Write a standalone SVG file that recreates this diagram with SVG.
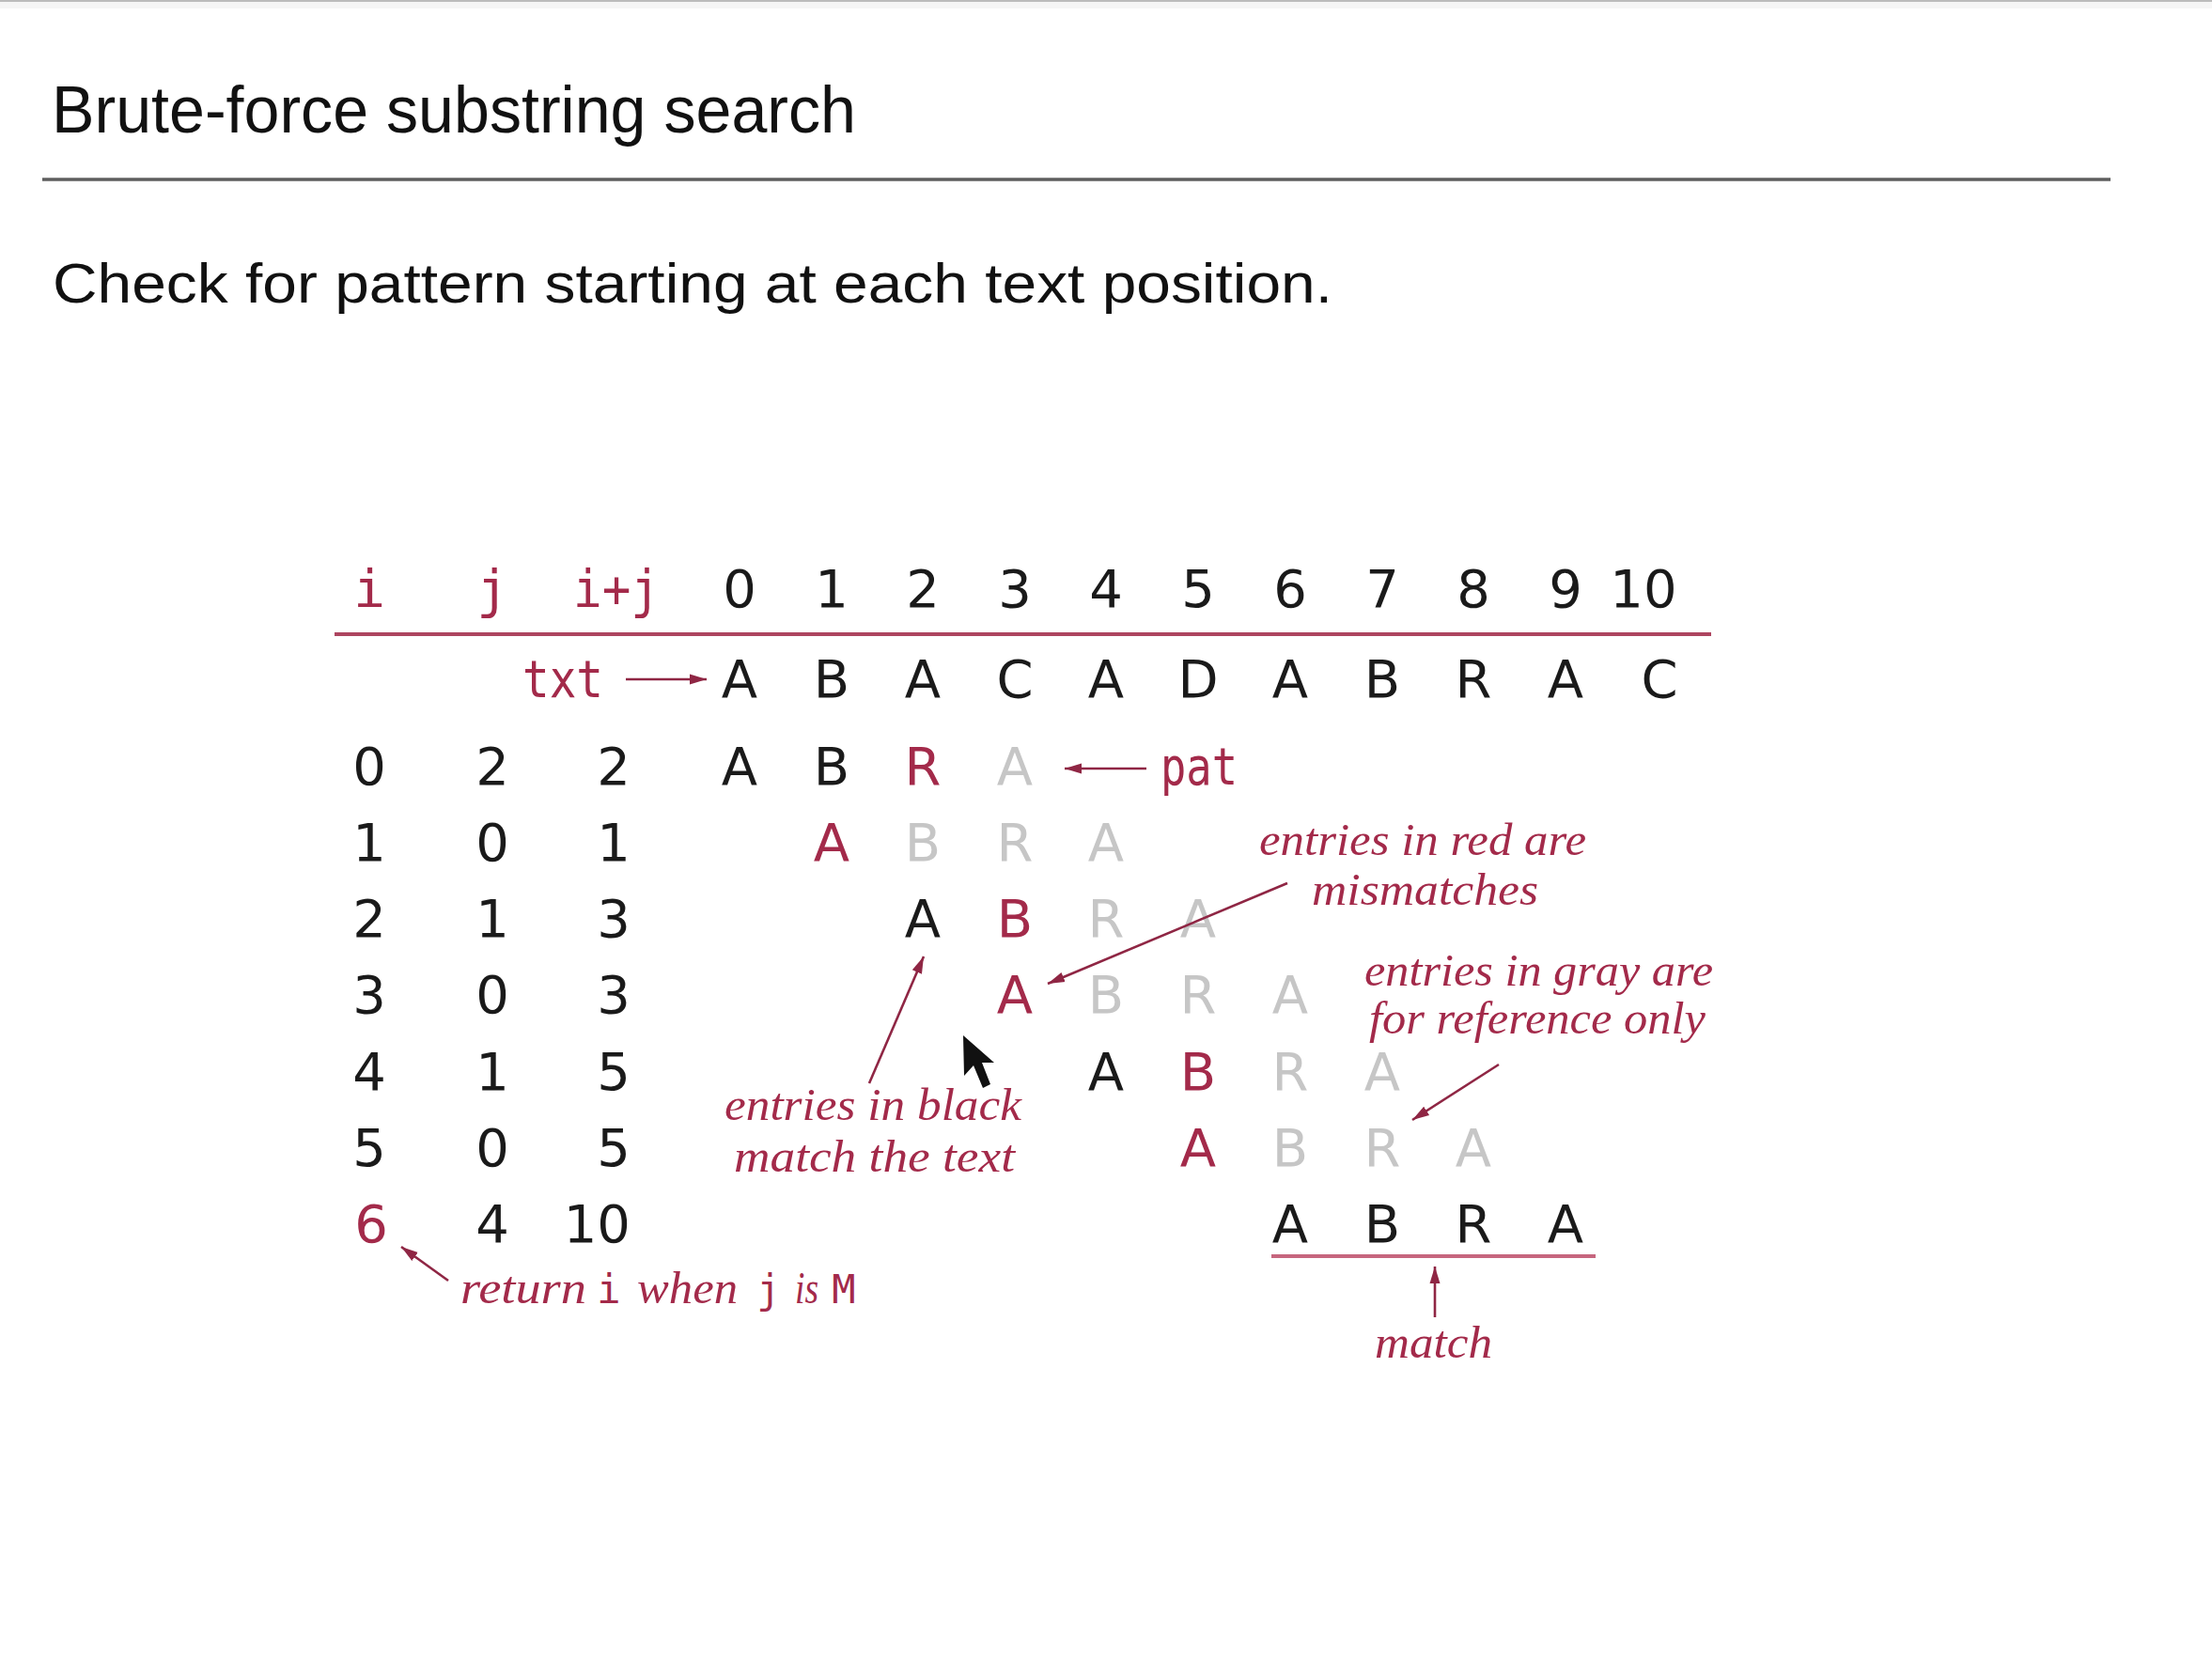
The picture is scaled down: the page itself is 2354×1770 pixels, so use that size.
<svg xmlns="http://www.w3.org/2000/svg" width="2354" height="1770" viewBox="0 0 2354 1770">
  <style>
    .title { font-family: "Liberation Sans", "DejaVu Sans", sans-serif; font-size: 70px; fill: #111; }
    .sub { font-family: "Liberation Sans", "DejaVu Sans", sans-serif; font-size: 60px; fill: #111; }
    .m { font-family: "DejaVu Sans", "Liberation Sans", sans-serif; font-size: 56px; text-anchor: middle; fill: #1a1a1a; }
    .tt { font-family: "DejaVu Sans Mono", "Liberation Mono", monospace; }
    .e { text-anchor: end; }
    .red { fill: #a32a4a; }
    .gray { fill: #c6c6c6; }
    .note { font-family: "Liberation Serif", "DejaVu Serif", serif; font-style: italic; font-size: 48px; fill: #a32a4a; }
    .mono-s { font-family: "DejaVu Sans Mono", "Liberation Mono", monospace; font-size: 42px; fill: #a32a4a; text-anchor: middle; }
    .arrow { stroke: #8f2644; stroke-width: 2.6; fill: none; marker-end: url(#head); }
  </style>
  <defs>
    <marker id="head" markerUnits="userSpaceOnUse" markerWidth="20" markerHeight="14" refX="18" refY="7" orient="auto">
      <path d="M0,1.5 L18,7 L0,12.5 Z" fill="#8f2644"/>
    </marker>
  </defs>

  <rect width="2354" height="1770" fill="#ffffff"/>
  <!-- window edge at the top -->
  <rect x="0" y="0" width="2354" height="2" fill="#bcbcbc"/>
  <rect x="0" y="2" width="2354" height="7" fill="#f6f6f6"/>

  <!-- heading -->
  <g id="heading">
    <text class="title" x="55" y="141" textLength="856" lengthAdjust="spacingAndGlyphs">Brute-force substring search</text>
    <line x1="45" y1="191" x2="2246" y2="191" stroke="#5e5e5e" stroke-width="3.5"/>
    <text class="sub" x="56" y="322" textLength="1362" lengthAdjust="spacingAndGlyphs">Check for pattern starting at each text position.</text>
  </g>

  <!-- table header -->
  <g id="header">
    <text class="m tt red" x="393" y="646">i</text>
    <text class="m tt red" x="524" y="646">j</text>
    <text class="m tt red" x="656" y="646" textLength="92" lengthAdjust="spacingAndGlyphs">i+j</text>
    <text class="m" x="787" y="646">0</text>
    <text class="m" x="885" y="646">1</text>
    <text class="m" x="982" y="646">2</text>
    <text class="m" x="1080" y="646">3</text>
    <text class="m" x="1177" y="646">4</text>
    <text class="m" x="1275" y="646">5</text>
    <text class="m" x="1373" y="646">6</text>
    <text class="m" x="1471" y="646">7</text>
    <text class="m" x="1568" y="646">8</text>
    <text class="m" x="1666" y="646">9</text>
    <text class="m" x="1749" y="646">10</text>
    <line x1="356" y1="675" x2="1821" y2="675" stroke="#ad4560" stroke-width="4"/>
  </g>

  <!-- text row -->
  <g id="txt">
    <text class="m tt red" x="599" y="742" textLength="86" lengthAdjust="spacingAndGlyphs">txt</text>
    <text class="m" x="787" y="742">A</text>
    <text class="m" x="885" y="742">B</text>
    <text class="m" x="982" y="742">A</text>
    <text class="m" x="1080" y="742">C</text>
    <text class="m" x="1177" y="742">A</text>
    <text class="m" x="1275" y="742">D</text>
    <text class="m" x="1373" y="742">A</text>
    <text class="m" x="1471" y="742">B</text>
    <text class="m" x="1568" y="742">R</text>
    <text class="m" x="1666" y="742">A</text>
    <text class="m" x="1766" y="742">C</text>
  </g>

  <!-- one row per alignment of the pattern -->
  <g id="row0">
    <text class="m" x="393" y="835">0</text>
    <text class="m" x="524" y="835">2</text>
    <text class="m e" x="671" y="835">2</text>
    <text class="m" x="787" y="835">A</text>
    <text class="m" x="885" y="835">B</text>
    <text class="m red" x="982" y="835">R</text>
    <text class="m gray" x="1080" y="835">A</text>
    <text class="m tt red" x="1276" y="835" textLength="82" lengthAdjust="spacingAndGlyphs">pat</text>
  </g>
  <g id="row1">
    <text class="m" x="393" y="916">1</text>
    <text class="m" x="524" y="916">0</text>
    <text class="m e" x="671" y="916">1</text>
    <text class="m red" x="885" y="916">A</text>
    <text class="m gray" x="982" y="916">B</text>
    <text class="m gray" x="1080" y="916">R</text>
    <text class="m gray" x="1177" y="916">A</text>
  </g>
  <g id="row2">
    <text class="m" x="393" y="997">2</text>
    <text class="m" x="524" y="997">1</text>
    <text class="m e" x="671" y="997">3</text>
    <text class="m" x="982" y="997">A</text>
    <text class="m red" x="1080" y="997">B</text>
    <text class="m gray" x="1177" y="997">R</text>
    <text class="m gray" x="1275" y="997">A</text>
  </g>
  <g id="row3">
    <text class="m" x="393" y="1078">3</text>
    <text class="m" x="524" y="1078">0</text>
    <text class="m e" x="671" y="1078">3</text>
    <text class="m red" x="1080" y="1078">A</text>
    <text class="m gray" x="1177" y="1078">B</text>
    <text class="m gray" x="1275" y="1078">R</text>
    <text class="m gray" x="1373" y="1078">A</text>
  </g>
  <g id="row4">
    <text class="m" x="393" y="1160">4</text>
    <text class="m" x="524" y="1160">1</text>
    <text class="m e" x="671" y="1160">5</text>
    <text class="m" x="1177" y="1160">A</text>
    <text class="m red" x="1275" y="1160">B</text>
    <text class="m gray" x="1373" y="1160">R</text>
    <text class="m gray" x="1471" y="1160">A</text>
  </g>
  <g id="row5">
    <text class="m" x="393" y="1241">5</text>
    <text class="m" x="524" y="1241">0</text>
    <text class="m e" x="671" y="1241">5</text>
    <text class="m red" x="1275" y="1241">A</text>
    <text class="m gray" x="1373" y="1241">B</text>
    <text class="m gray" x="1471" y="1241">R</text>
    <text class="m gray" x="1568" y="1241">A</text>
  </g>
  <g id="row6">
    <text class="m red" x="395" y="1322">6</text>
    <text class="m" x="524" y="1322">4</text>
    <text class="m e" x="671" y="1322">10</text>
    <text class="m" x="1373" y="1322">A</text>
    <text class="m" x="1471" y="1322">B</text>
    <text class="m" x="1568" y="1322">R</text>
    <text class="m" x="1666" y="1322">A</text>
    <line x1="1353" y1="1337" x2="1698" y2="1337" stroke="#c6667e" stroke-width="4"/>
  </g>

  <!-- notes -->
  <g id="note-red">
    <text class="note" x="1340" y="910" textLength="348" lengthAdjust="spacingAndGlyphs">entries in red are</text>
    <text class="note" x="1396" y="963" textLength="241" lengthAdjust="spacingAndGlyphs">mismatches</text>
  </g>
  <g id="note-gray">
    <text class="note" x="1452" y="1049" textLength="371" lengthAdjust="spacingAndGlyphs">entries in gray are</text>
    <text class="note" x="1457" y="1100" textLength="358" lengthAdjust="spacingAndGlyphs">for reference only</text>
  </g>
  <g id="note-black">
    <text class="note" x="771" y="1192" textLength="316" lengthAdjust="spacingAndGlyphs">entries in black</text>
    <text class="note" x="781" y="1247" textLength="299" lengthAdjust="spacingAndGlyphs">match the text</text>
  </g>
  <g id="note-match">
    <text class="note" x="1463" y="1445" textLength="125" lengthAdjust="spacingAndGlyphs">match</text>
  </g>
  <g id="note-return">
    <text class="note" x="490" y="1387" textLength="134" lengthAdjust="spacingAndGlyphs">return</text>
    <text class="mono-s" x="648" y="1387">i</text>
    <text class="note" x="678" y="1387" textLength="107" lengthAdjust="spacingAndGlyphs">when</text>
    <text class="mono-s" x="818" y="1387">j</text>
    <text class="note" x="846" y="1387" textLength="25" lengthAdjust="spacingAndGlyphs">is</text>
    <text class="mono-s" x="898" y="1387" font-size="38">M</text>
  </g>

  <!-- connectors -->
  <g id="connectors">
    <line class="arrow" x1="666" y1="723" x2="752" y2="723"/>
    <line class="arrow" x1="1220" y1="818" x2="1133" y2="818"/>
    <line class="arrow" x1="1370" y1="940" x2="1115" y2="1047"/>
    <line class="arrow" x1="925" y1="1153" x2="983" y2="1018"/>
    <line class="arrow" x1="1595" y1="1133" x2="1503" y2="1192"/>
    <line class="arrow" x1="477" y1="1363" x2="427" y2="1327"/>
    <line class="arrow" x1="1527" y1="1402" x2="1527" y2="1348"/>
  </g>

  <!-- pointer -->
  <path d="M1025,1102 L1026,1145 L1036,1134 L1046,1158 L1054,1154 L1045,1131 L1058,1131 Z" fill="#111"/>
</svg>
